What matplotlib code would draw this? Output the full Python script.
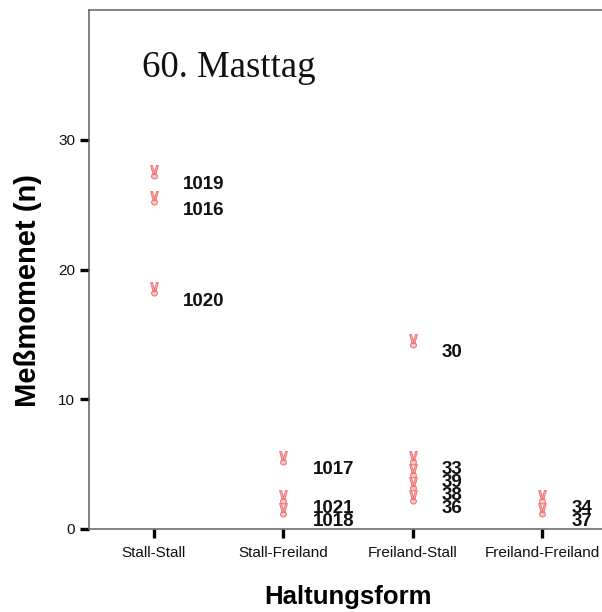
import matplotlib
matplotlib.use("Agg")
import matplotlib.pyplot as plt
from matplotlib.path import Path
from matplotlib.transforms import Affine2D, offset_copy

# --- data ---
categories = ["Stall-Stall", "Stall-Freiland", "Freiland-Stall", "Freiland-Freiland"]
values = [
    [27, 25, 18],
    [5, 2, 1],
    [14, 5, 4, 3, 2],
    [2, 1],
]
case_ids = [
    ["1019", "1016", "1020"],
    ["1017", "1021", "1018"],
    ["30", "33", "39", "38", "36"],
    ["34", "37"],
]
yticks = [0, 10, 20, 30]

C_MARK = "#f07878"
C_MARK_FILL = "#fbc8c8"
C_SPINE = "#606060"

# small "victory hand" style marker: two filled fingers (V) over a fist (circle)
fist = Path.unit_circle().transformed(Affine2D().scale(0.42, 0.38).translate(0, -0.55))
left_f = Path([(-0.55, 1.0), (-0.3, 1.0), (0.05, -0.2), (-0.2, -0.2), (-0.55, 1.0)],
              [Path.MOVETO, Path.LINETO, Path.LINETO, Path.LINETO, Path.CLOSEPOLY])
right_f = Path([(0.3, 1.0), (0.55, 1.0), (0.2, -0.2), (-0.05, -0.2), (0.3, 1.0)],
               [Path.MOVETO, Path.LINETO, Path.LINETO, Path.LINETO, Path.CLOSEPOLY])
hand = Path.make_compound_path(left_f, right_f, fist)

fig = plt.figure(figsize=(6.02, 6.12), dpi=100)
# axes box: left 89px, right 607px (cut off), top 10px, bottom 529px
ax = fig.add_axes([89 / 602, 83 / 612, 518 / 602, 519 / 612])
mark_tr = offset_copy(ax.transData, fig=fig, x=0, y=4.5, units="points")

for i, (vals, ids) in enumerate(zip(values, case_ids)):
    xpos = i + 1
    ax.plot([xpos] * len(vals), vals, linestyle="none", marker=hand, markersize=10,
            markerfacecolor=C_MARK_FILL, markeredgecolor=C_MARK, markeredgewidth=0.8,
            transform=mark_tr, clip_on=False)
    for v, cid in zip(vals, ids):
        ax.annotate(cid, xy=(xpos, v), xytext=(21, -4), textcoords="offset points",
                    ha="left", va="center", fontsize=13.5, fontweight="bold",
                    color="#111111", family=["Liberation Sans", "DejaVu Sans"])

ax.text(0.909, 34.8, "60. Masttag", fontsize=26.5, va="baseline", ha="left",
        family=["Liberation Serif", "DejaVu Serif"], color="#111111")

ax.set_xlim(0.5, 4.5)
ax.set_ylim(0, 40)
ax.set_xticks(range(1, len(categories) + 1))
ax.set_xticklabels(categories)
ax.set_yticks(yticks)

for sp in ("left", "bottom", "top"):
    ax.spines[sp].set_color(C_SPINE)
    ax.spines[sp].set_linewidth(1.1)
ax.spines["right"].set_visible(False)

ax.tick_params(axis="y", direction="out", length=6.5, width=2.4, color="black",
               labelsize=11, pad=3.5)
ax.tick_params(axis="x", direction="out", length=6.5, width=2.4, color="black",
               labelsize=11, pad=6)
for lab in ax.get_xticklabels() + ax.get_yticklabels():
    lab.set_family(["Liberation Sans", "DejaVu Sans"])
    lab.set_color("#111111")

ax.set_xlabel("Haltungsform", fontsize=18.5, fontweight="bold",
              family=["Liberation Sans", "DejaVu Sans"], labelpad=18)
ax.set_ylabel("Meßmomenet (n)", fontsize=21, fontweight="bold",
              family=["Liberation Sans", "DejaVu Sans"])
ax.yaxis.set_label_coords(-0.09, 0.46)

fig.savefig("out.png", dpi=100)
